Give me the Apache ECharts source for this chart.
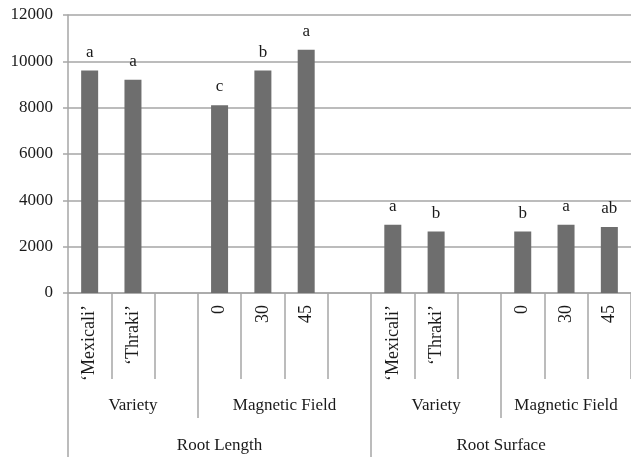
<!DOCTYPE html>
<html>
<head>
<meta charset="utf-8">
<script src="https://cdn.jsdelivr.net/npm/echarts@6/dist/echarts.min.js"></script>
<style>
  html, body { margin: 0; padding: 0; background: #fff; }
  #chart { width: 631px; height: 457px; }
</style>
</head>
<body>
<div id="chart"></div>
<script>
// Category cells along the x axis (empty strings are spacer cells)
var categories = ['‘Mexicali’', '‘Thraki’', '', '0', '30', '45', '',
                  '‘Mexicali’', '‘Thraki’', '', '0', '30', '45'];
// Root length / root surface means
var values = [9600, 9200, null, 8100, 9600, 10500, null,
              2950, 2650, null, 2650, 2950, 2850];
// Significance letters shown above each bar
var letters = ['a', 'a', '', 'c', 'b', 'a', '',
               'a', 'b', '', 'b', 'a', 'ab'];
// Second level: factor groups (centre position in cell units, label)
var factorPos = [1.5, 5, 8.5, 11.5];
var factorNames = ['Variety', 'Magnetic Field', 'Variety', 'Magnetic Field'];
var factorBounds = [3, 10];
// Third level: measured trait
var traitPos = [3.5, 10];
var traitNames = ['Root Length', 'Root Surface'];
var traitBounds = [0, 7];
// Y axis ticks
var yMin = 0, yMax = 12000, yStep = 2000;

var FONT = 'Liberation Serif';
var GRAY = '#a6a6a6';
var TEXT = '#1a1a1a';

function lookup(posArr, nameArr) {
  return function (v) {
    for (var i = 0; i < posArr.length; i++) {
      if (Math.abs(posArr[i] - v) < 1e-6) return nameArr[i];
    }
    return '';
  };
}

var chart = echarts.init(document.getElementById('chart'), null, { renderer: 'canvas' });
chart.setOption({
  animation: false,
  backgroundColor: '#fff',
  grid: { left: 68, right: 0, top: 15, bottom: 164, containLabel: false },
  xAxis: [
    {
      type: 'category',
      data: categories,
      boundaryGap: true,
      axisLine: { show: true, lineStyle: { color: GRAY, width: 1.5 } },
      axisTick: { show: true, interval: 0, alignWithLabel: false, length: 86,
                  lineStyle: { color: GRAY, width: 1.5 } },
      axisLabel: { interval: 0, rotate: 90, margin: 12, fontFamily: FONT,
                   fontSize: 18, color: TEXT }
    },
    {
      type: 'value', min: 0, max: categories.length, position: 'bottom',
      axisLine: { show: false }, splitLine: { show: false },
      axisTick: { show: true, customValues: factorBounds, length: 125,
                  lineStyle: { color: GRAY, width: 1.5 } },
      axisLabel: { show: true, customValues: factorPos, margin: 104,
                   formatter: lookup(factorPos, factorNames),
                   fontFamily: FONT, fontSize: 17, color: TEXT }
    },
    {
      type: 'value', min: 0, max: categories.length, position: 'bottom',
      axisLine: { show: false }, splitLine: { show: false },
      axisTick: { show: true, customValues: traitBounds, length: 170,
                  lineStyle: { color: GRAY, width: 1.5 } },
      axisLabel: { show: true, customValues: traitPos, margin: 144,
                   formatter: lookup(traitPos, traitNames),
                   fontFamily: FONT, fontSize: 17, color: TEXT }
    }
  ],
  yAxis: {
    type: 'value', min: yMin, max: yMax, interval: yStep,
    axisLine: { show: true, lineStyle: { color: GRAY, width: 1.5 } },
    axisTick: { show: true, length: 5, lineStyle: { color: GRAY, width: 1.5 } },
    splitLine: { show: true, lineStyle: { color: GRAY, width: 1.5 } },
    axisLabel: { margin: 15, fontFamily: FONT, fontSize: 17, color: TEXT,
                 formatter: function (v) { return String(v); } }
  },
  series: [{
    type: 'bar',
    xAxisIndex: 0,
    data: values,
    barWidth: 17,
    itemStyle: { color: '#6e6e6e' },
    label: {
      show: true, position: 'top', distance: 10,
      fontFamily: FONT, fontSize: 17, color: TEXT,
      formatter: function (p) { return letters[p.dataIndex]; }
    }
  }]
});
</script>
</body>
</html>
